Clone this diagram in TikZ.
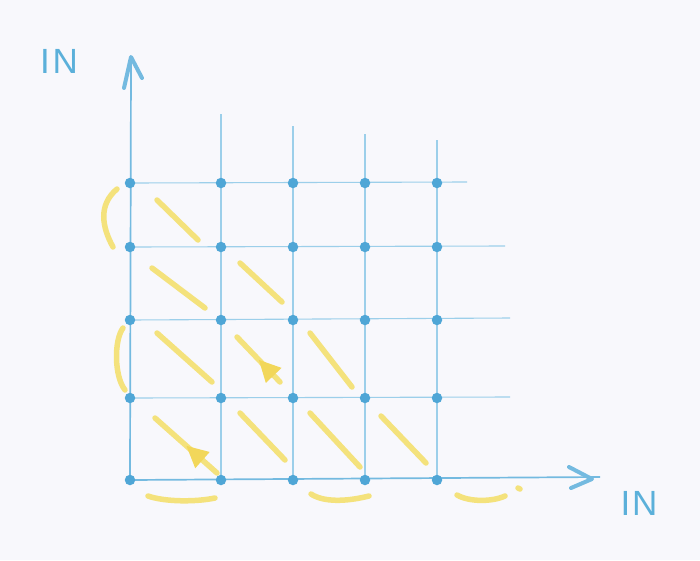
\documentclass[tikz,border=0pt]{standalone}
\usepackage{fontspec}
\setmainfont{Liberation Sans}
\usetikzlibrary{calc,decorations.markings,arrows.meta,backgrounds}
\definecolor{paper}{HTML}{F8F8FC}
\definecolor{gridblue}{HTML}{9CCFEA}
\definecolor{dotblue}{HTML}{4FA6D6}
\definecolor{axisblue}{HTML}{74BAE0}
\definecolor{hl}{HTML}{F4E27C}
\definecolor{hlarrow}{HTML}{F2D75A}
\definecolor{labelblue}{HTML}{5BB0DA}
\begin{document}
\begin{tikzpicture}[x=1pt,y=-1pt,
  gridline/.style={gridblue,line width=1.1pt},
  axisline/.style={axisblue,line width=1.7pt},
  axishead/.style={axisblue,line width=4pt,line cap=round,line join=round},
  dot/.style={circle,fill=dotblue,inner sep=0pt,minimum size=10.5pt},
  hstroke/.style={hl,line width=5.5pt,line cap=round},
  harrow/.style={hstroke,decoration={markings,mark=at position 0.5 with {\arrow[hlarrow]{Triangle[length=22pt,width=20pt]}}},postaction=decorate},
  lbl/.style={labelblue,font=\fontsize{35}{35}\selectfont}]
\useasboundingbox (0,0) rectangle (700,560);
% dots
\foreach \i/\x in {0/130,1/221,2/293,3/365,4/437}
  \foreach \j/\y in {0/480,1/398,2/320,3/247,4/183}
    \node[dot] (p\i\j) at (\x,\y) {};
% free ends of the grid lines
\coordinate (ytop) at (131,57);
\coordinate (yhl) at (124,88);
\coordinate (yhr) at (142,78);
\coordinate (xend) at (600,477);
\coordinate (xtip) at (592,479);
\coordinate (xhu) at (569,467);
\coordinate (xhd) at (571,488);
\coordinate (v1) at (221,114);
\coordinate (v2) at (293,126);
\coordinate (v3) at (365,134);
\coordinate (v4) at (437,140);
\coordinate (h1) at (510,397);
\coordinate (h2) at (510,318);
\coordinate (h3) at (505,246);
\coordinate (h4) at (467,182);
% labels
\node[lbl] (ylab) at (59,61) {I\hspace{3pt}N};
\node[lbl] (xlab) at (639,503) {I\hspace{2pt}N};
\begin{scope}[on background layer]
\fill[paper] (0,0) rectangle (700,560);
\draw[gridline] (p10.center) -- (v1);
\draw[gridline] (p20.center) -- (v2);
\draw[gridline] (p30.center) -- (v3);
\draw[gridline] (p40.center) -- (v4);
\draw[gridline] (p01.center) -- (h1);
\draw[gridline] (p02.center) -- (h2);
\draw[gridline] (p03.center) -- (h3);
\draw[gridline] (p04.center) -- (h4);
\draw[axisline] (p00.center) -- (ytop);
\draw[axisline] (p00.center) -- (xend);
\end{scope}
\draw[axishead] (yhl) -- (ytop) -- (yhr);
\draw[axishead] (xhu) -- (xtip) -- (xhd);
% diagonal strokes
\draw[hstroke] ($(p04)+(27,17)$) -- ($(p04)+(68,57)$);
\draw[hstroke] ($(p03)+(22,21)$) -- ($(p03)+(75,61)$);
\draw[hstroke] ($(p13)+(19,16)$) -- ($(p13)+(61,55)$);
\draw[hstroke] ($(p02)+(27,13)$) -- ($(p02)+(82,62)$);
\draw[harrow] ($(p12)+(59,62)$) -- ($(p12)+(16,17)$);
\draw[hstroke] ($(p22)+(17,13)$) -- ($(p22)+(59,67)$);
\draw[harrow] ($(p01)+(87,75)$) -- ($(p01)+(25,20)$);
\draw[hstroke] ($(p11)+(19,15)$) -- ($(p11)+(64,62)$);
\draw[hstroke] ($(p21)+(17,15)$) -- ($(p21)+(67,69)$);
\draw[hstroke] ($(p31)+(16,18)$) -- ($(p31)+(61,65)$);
% turning arcs
\draw[hstroke] ($(p04)+(-13,6)$) .. controls ($(p04)+(-32,22)$) and ($(p03)+(-28,-20)$) .. ($(p03)+(-17,0)$);
\draw[hstroke] ($(p02)+(-7,8)$) .. controls ($(p02)+(-16,20)$) and ($(p01)+(-16,-22)$) .. ($(p01)+(-5,-8)$);
\draw[hstroke] ($(p00)+(18,16)$) .. controls ($(p00)+(35,22)$) and ($(p10)+(-25,22)$) .. ($(p10)+(-6,18)$);
\draw[hstroke] ($(p20)+(18,14)$) .. controls ($(p20)+(30,22)$) and ($(p30)+(-20,22)$) .. ($(p30)+(4,16)$);
\draw[hstroke] ($(p40)+(20,15)$) .. controls ($(p40)+(32,22)$) and ($(p40)+(55,22)$) .. ($(p40)+(68,16)$);
\draw[hstroke] ($(p40)+(81,8)$) -- ($(p40)+(83,9)$);
\end{tikzpicture}
\end{document}
